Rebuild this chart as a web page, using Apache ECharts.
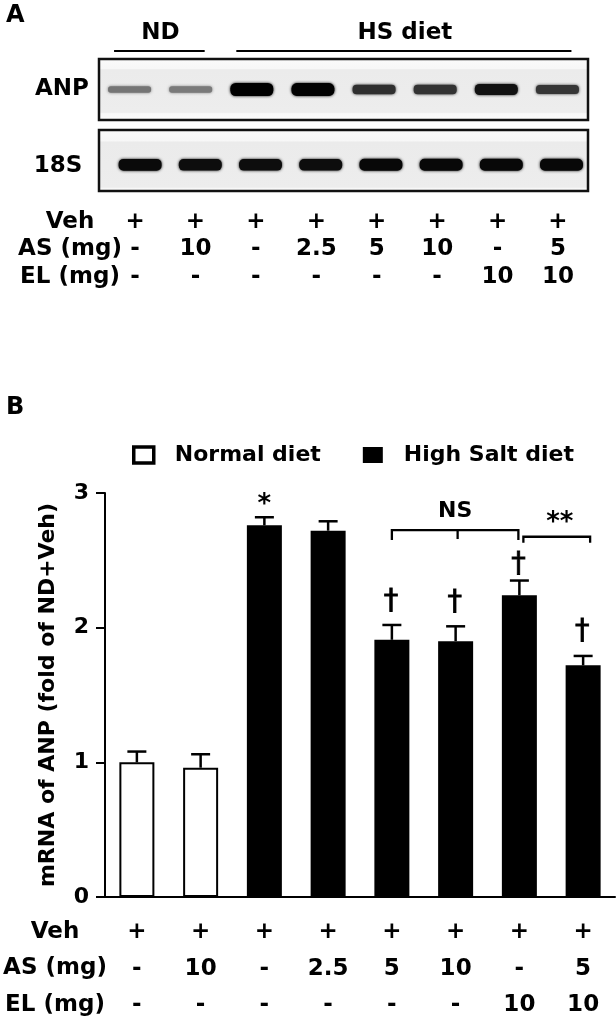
<!DOCTYPE html>
<html><head><meta charset="utf-8">
<script src="https://cdn.jsdelivr.net/npm/echarts@6/dist/echarts.min.js"></script>
<style>html,body{margin:0;padding:0;background:#fff}#c{width:616px;height:1035px}</style>
</head><body><div id="c"></div>
<script>
// ---------- data ----------
const lanes = ['1','2','3','4','5','6','7','8'];
const vehRow = ['+','+','+','+','+','+','+','+'];
const asRow  = ['-','10','-','2.5','5','10','-','5'];
const elRow  = ['-','-','-','-','-','-','10','10'];
const rowLabels = ['Veh','AS (mg)','EL (mg)'];
// gel band intensities (relative)
const anpBand = [0.30, 0.28, 1.00, 0.98, 0.62, 0.60, 0.80, 0.58];
const s18Band = [0.86, 0.84, 0.84, 0.84, 0.88, 0.88, 0.88, 0.88];
const groupNames = ['ND', 'HS diet'];
const groupFrom = [0, 2];
const groupTo = [1, 7];
// panel B
const seriesNames = ['Normal diet', 'High Salt diet'];
const ndMean = [1.00, 0.96, null, null, null, null, null, null];
const hsMean = [null, null, 2.76, 2.72, 1.91, 1.90, 2.24, 1.72];
const semErr = [0.08, 0.10, 0.06, 0.07, 0.11, 0.11, 0.11, 0.07];
const sigIndex = [2, 4, 5, 6, 7];
const sigText = ['*', '†', '†', '†', '†'];
const bracketFrom = [4, 6];
const bracketTo = [6, 7];
const bracketMid = [5, null];
const bracketY = [2.725, 2.675];
const bracketText = ['NS', '**'];
const yMin = 0, yMax = 3, yStep = 1;

// ---------- styles ----------
const FF = 'DejaVu Sans';
const meanOf = i => (ndMean[i] != null ? ndMean[i] : hsMean[i]);

function bandRenderer(yc) {
  return function (params, api) {
    const inten = api.value(1);
    const p = api.coord([api.value(0), yc]);
    const h = 4 + 9 * inten;
    const g = Math.round(200 * Math.pow(1 - inten, 1.5));
    const col = 'rgb(' + g + ',' + g + ',' + g + ')';
    return {
      type: 'rect',
      shape: { x: p[0] - 21.5, y: p[1] - h / 2, width: 43, height: h, r: h / 2.4 },
      style: { fill: col, shadowBlur: 3, shadowColor: col }
    };
  };
}

const gelBg = (a, b) => ({
  type: 'linear', x: 0, y: 0, x2: 0, y2: 1,
  colorStops: [
    { offset: 0, color: '#fbfbfb' }, { offset: a - 0.01, color: '#f7f7f7' },
    { offset: a + 0.01, color: '#ebebeb' }, { offset: b - 0.01, color: '#ededed' },
    { offset: b + 0.01, color: '#f8f8f8' }, { offset: 1, color: '#fbfbfb' }
  ]
});

const tableLabel = (lh, margin) => ({
  interval: 0, margin: margin, color: '#000', fontFamily: FF, fontWeight: 'bold',
  fontSize: 23, lineHeight: lh, align: 'center',
  formatter: (v, i) => vehRow[i] + '\n' + asRow[i] + '\n' + elRow[i]
});

const hiddenX = (gi) => ({ type: 'category', data: lanes, gridIndex: gi, show: false, boundaryGap: true });
const hiddenY = (gi) => ({ type: 'value', min: 0, max: 1, gridIndex: gi, show: false });

const chart = echarts.init(document.getElementById('c'), null, { renderer: 'canvas' });

const option = {
  animation: false,
  backgroundColor: '#fff',
  textStyle: { fontFamily: FF },
  grid: [
    { left: 99, top: 59, width: 489, height: 61, show: true, borderColor: '#111', borderWidth: 2.5, backgroundColor: gelBg(0.18, 0.87) },
    { left: 99, top: 130, width: 489, height: 61, show: true, borderColor: '#111', borderWidth: 2.5, backgroundColor: gelBg(0.2, 0.93) },
    { left: 110, top: 130, width: 481.6, height: 61 },
    { left: 104.8, top: 199, width: 483.4, height: 1 },
    { left: 105, top: 493, width: 510, height: 404 }
  ],
  xAxis: [
    hiddenX(0), hiddenX(1), hiddenX(2),
    { type: 'category', data: lanes, gridIndex: 3, position: 'bottom',
      axisLine: { show: false }, axisTick: { show: false }, axisLabel: tableLabel(27.5, 8) },
    { type: 'category', data: lanes, gridIndex: 4,
      axisLine: { show: true, lineStyle: { color: '#000', width: 2 } },
      axisTick: { show: false }, axisLabel: tableLabel(36.5, 17) }
  ],
  yAxis: [
    hiddenY(0), hiddenY(1), hiddenY(2), hiddenY(3),
    { type: 'value', gridIndex: 4, min: yMin, max: yMax, interval: yStep,
      name: 'mRNA of ANP (fold of ND+Veh)', nameLocation: 'middle', nameGap: 46, nameRotate: 90,
      nameTextStyle: { color: '#000', fontFamily: FF, fontWeight: 'bold', fontSize: 22 },
      axisLine: { show: true, lineStyle: { color: '#000', width: 2 } },
      axisTick: { show: true, length: 9, lineStyle: { color: '#000', width: 2 } },
      axisLabel: { margin: 16, color: '#000', fontFamily: FF, fontWeight: 'bold', fontSize: 22 },
      splitLine: { show: false } }
  ],
  legend: {
    left: 127, top: 439, itemWidth: 20, itemHeight: 16, itemGap: 42, icon: 'rect',
    selectedMode: false,
    textStyle: { color: '#000', fontFamily: FF, fontWeight: 'bold', fontSize: 22, padding: [0, 0, 0, 16] },
    data: [
      { name: seriesNames[0], itemStyle: { color: '#fff', borderColor: '#000', borderWidth: 3.5 } },
      { name: seriesNames[1], itemStyle: { color: '#000' } }
    ]
  },
  graphic: [
    { type: 'text', left: 6, top: 4, style: { text: 'A', font: 'bold 24px "DejaVu Sans"', fill: '#000' } },
    { type: 'text', left: 6, top: 396, style: { text: 'B', font: 'bold 24px "DejaVu Sans"', fill: '#000' } },
    { type: 'text', x: 62, y: 89, style: { text: 'ANP', font: 'bold 23px "DejaVu Sans"', fill: '#000', align: 'center', verticalAlign: 'middle' } },
    { type: 'text', x: 58, y: 166, style: { text: '18S', font: 'bold 23px "DejaVu Sans"', fill: '#000', align: 'center', verticalAlign: 'middle' } }
  ].concat(rowLabels.map((t, k) => ({
    type: 'text', x: 70, y: 221.7 + 27.5 * k,
    style: { text: t, font: 'bold 23px "DejaVu Sans"', fill: '#000', align: 'center', verticalAlign: 'middle' }
  }))).concat(rowLabels.map((t, k) => ({
    type: 'text', x: 55, y: 932 + 36.5 * k,
    style: { text: t, font: 'bold 23px "DejaVu Sans"', fill: '#000', align: 'center', verticalAlign: 'middle' }
  }))),
  series: [
    // gel bands
    { type: 'custom', xAxisIndex: 0, yAxisIndex: 0, renderItem: bandRenderer(0.5),
      data: anpBand.map((v, i) => [i, v]), silent: true },
    { type: 'custom', xAxisIndex: 2, yAxisIndex: 2, renderItem: bandRenderer(0.43),
      data: s18Band.map((v, i) => [i, v]), silent: true },
    // group header lines
    { type: 'custom', xAxisIndex: 0, yAxisIndex: 0, silent: true, clip: false,
      data: groupFrom.map((f, i) => [f, groupTo[i], i]),
      renderItem: function (params, api) {
        const x1 = api.coord([api.value(0), 0])[0] - 15.5;
        const x2 = api.coord([api.value(1), 0])[0] + 14;
        const y = params.coordSys.y - 8;
        return { type: 'group', children: [
          { type: 'line', shape: { x1: x1, y1: y, x2: x2, y2: y }, style: { stroke: '#000', lineWidth: 2 } },
          { type: 'text', x: (x1 + x2) / 2 + 1, y: y - 18,
            style: { text: groupNames[api.value(2)], font: 'bold 23px "DejaVu Sans"', fill: '#000', align: 'center', verticalAlign: 'middle' } }
        ] };
      } },
    // bars
    { name: seriesNames[0], type: 'bar', xAxisIndex: 4, yAxisIndex: 4, data: ndMean, barWidth: 35, barGap: '-100%',
      itemStyle: { color: '#fff', borderColor: '#000', borderWidth: 2 } },
    { name: seriesNames[1], type: 'bar', xAxisIndex: 4, yAxisIndex: 4, data: hsMean, barWidth: 35, barGap: '-100%',
      itemStyle: { color: '#000' } },
    // error bars (upper)
    { type: 'custom', xAxisIndex: 4, yAxisIndex: 4, silent: true, z: 5,
      data: semErr.map((e, i) => [i, meanOf(i), e]),
      renderItem: function (params, api) {
        const i = api.value(0), m = api.value(1), e = api.value(2);
        const base = api.coord([i, m]), top = api.coord([i, m + e]);
        return { type: 'group', children: [
          { type: 'line', shape: { x1: top[0], y1: base[1], x2: top[0], y2: top[1] }, style: { stroke: '#000', lineWidth: 2.5 } },
          { type: 'line', shape: { x1: top[0] - 9.5, y1: top[1], x2: top[0] + 9.5, y2: top[1] }, style: { stroke: '#000', lineWidth: 2.5 } }
        ] };
      } },
    // significance marks
    { type: 'custom', xAxisIndex: 4, yAxisIndex: 4, silent: true, z: 6,
      data: sigIndex.map((idx, k) => [idx, meanOf(idx) + semErr[idx], k]),
      renderItem: function (params, api) {
        const k = api.value(2);
        const p = api.coord([api.value(0), api.value(1)]);
        const t = sigText[k];
        const isStar = t === '*';
        const off = isStar ? 12 : (api.value(0) === 6 ? 16 : 24);
        return { type: 'text', x: p[0] - (isStar ? 0 : 1), y: p[1] - off,
          style: { text: t, font: (isStar ? 'bold 26px' : 'normal 29px') + ' "DejaVu Sans"', fill: '#000', stroke: isStar ? null : '#000', lineWidth: isStar ? 0 : 0.8, align: 'center', verticalAlign: 'middle' } };
      } },
    // brackets
    { type: 'custom', xAxisIndex: 4, yAxisIndex: 4, silent: true, z: 6, clip: false,
      data: bracketFrom.map((f, k) => [f, bracketY[k], k]),
      renderItem: function (params, api) {
        const k = api.value(2);
        const pad = k === 0 ? [0, -1] : [4, 7];
        const drop = k === 0 ? 10 : 6;
        const y = api.coord([0, api.value(1)])[1];
        const x1 = api.coord([bracketFrom[k], 0])[0] + pad[0];
        const x2 = api.coord([bracketTo[k], 0])[0] + pad[1];
        const st = { stroke: '#000', lineWidth: 2.3, fill: null };
        const kids = [
          { type: 'polyline', shape: { points: [[x1, y + drop], [x1, y], [x2, y], [x2, y + drop]] }, style: st }
        ];
        if (bracketMid[k] != null) {
          const xm = api.coord([bracketMid[k], 0])[0] + 2;
          kids.push({ type: 'line', shape: { x1: xm, y1: y, x2: xm, y2: y + 9 }, style: st });
        }
        kids.push({ type: 'text', x: (x1 + x2) / 2 + (k === 0 ? 0 : 3), y: y - (k === 0 ? 19 : 14),
          style: { text: bracketText[k], font: 'bold ' + (k === 0 ? 22 : 26) + 'px "DejaVu Sans"', fill: '#000', align: 'center', verticalAlign: 'middle' } });
        return { type: 'group', children: kids };
      } }
  ]
};
chart.setOption(option);
</script>
</body></html>
